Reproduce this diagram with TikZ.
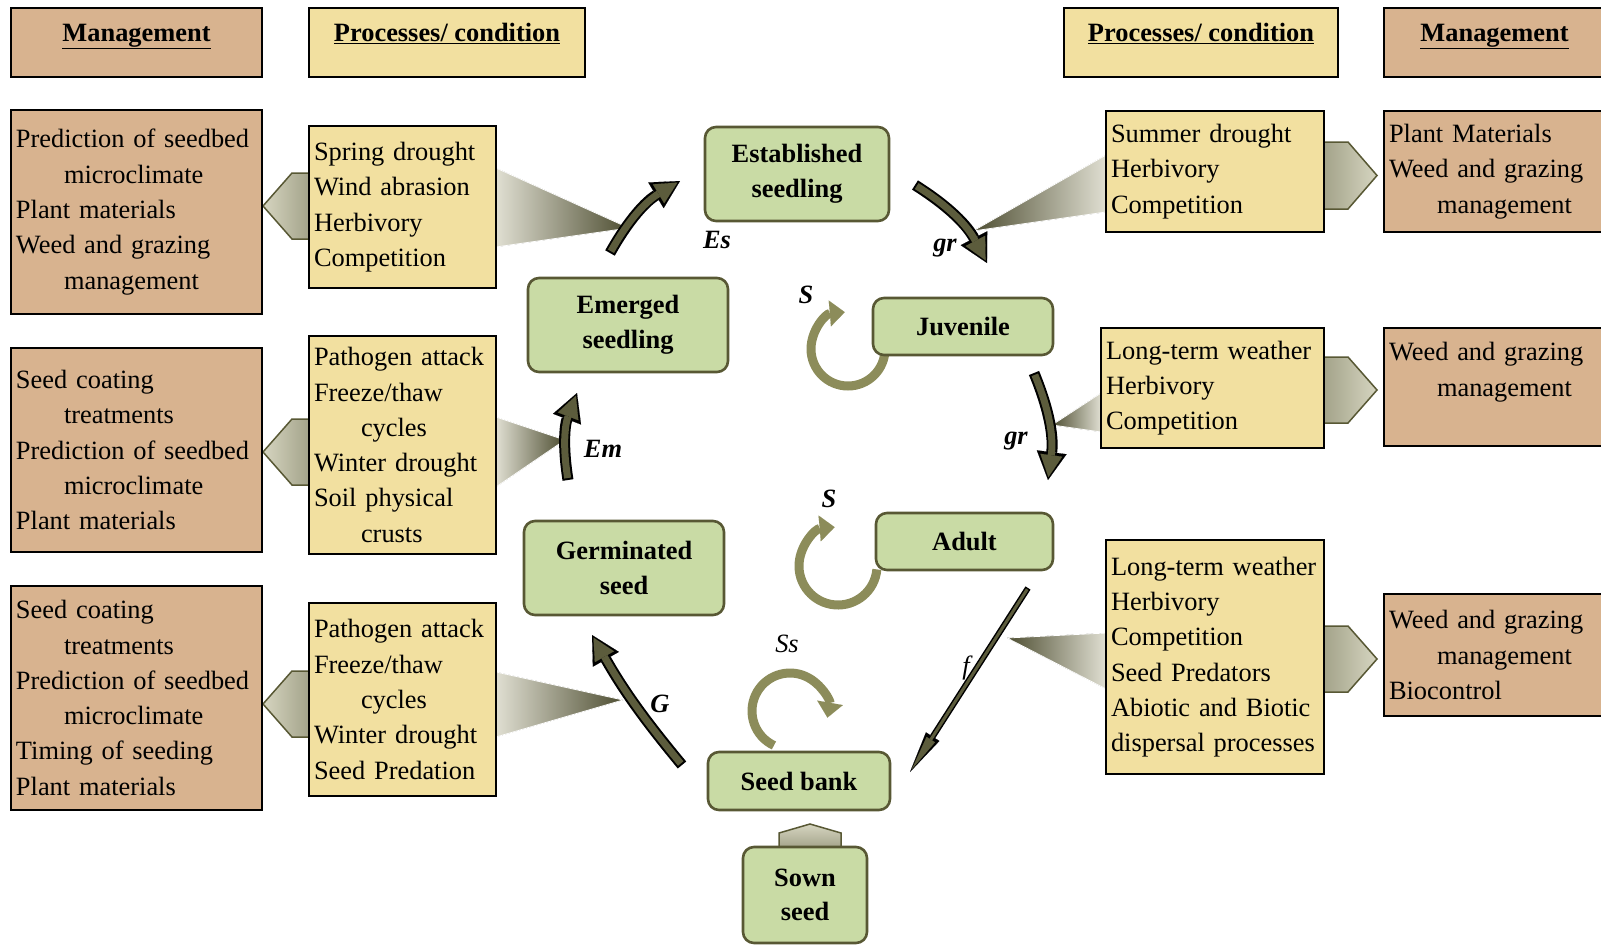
\documentclass[tikz,border=0pt]{standalone}
\usepackage{fontspec}
\setmainfont{Liberation Serif}
\usetikzlibrary{arrows.meta, shapes.geometric, backgrounds}

\definecolor{mgmtfill}{RGB}{216,179,143}
\definecolor{procfill}{RGB}{242,224,160}
\definecolor{stagefill}{RGB}{201,219,165}
\definecolor{stagedraw}{RGB}{88,88,52}
\definecolor{arrowfill}{RGB}{92,92,60}
\definecolor{loopcol}{RGB}{140,140,90}
\definecolor{funneldark}{RGB}{78,78,50}
\definecolor{funnellight}{RGB}{224,223,210}
\definecolor{wedgedark}{RGB}{163,163,138}
\definecolor{wedgelight}{RGB}{214,213,192}

\begin{document}
\begin{tikzpicture}[
x=1pt, y=-1pt,
hdr/.style={rectangle, draw, line width=2.6pt, minimum height=69pt, text depth=20pt,
font=\fontsize{26.4}{35.3}\selectfont\bfseries},
mgmt/.style={rectangle, draw, line width=2.6pt, fill=mgmtfill, align=left,
inner xsep=5pt, inner ysep=2pt, font=\fontsize{26.4}{35.3}\selectfont},
proc/.style={mgmt, fill=procfill},
stage/.style={rectangle, rounded corners=11pt, draw=stagedraw, line width=2.6pt,
fill=stagefill, align=center, inner sep=0pt, font=\fontsize{26.4}{34.7}\selectfont\bfseries},
lbl/.style={font=\fontsize{26.4}{30}\selectfont\bfseries\itshape},
lblthin/.style={font=\fontsize{26.4}{30}\selectfont\itshape},
fatback/.style={line width=11pt, black, -{Triangle[length=28pt, width=30pt, line width=0.1pt]}},
fatfront/.style={line width=7pt, arrowfill, shorten <=2pt, shorten >=3pt,
-{Triangle[length=22pt, width=22pt, line width=0.1pt]}},
thinback/.style={line width=6pt, black, -{Triangle[length=42pt, width=16pt, line width=0.1pt]}},
thinfront/.style={line width=3pt, arrowfill, shorten <=1.5pt, shorten >=3.5pt,
-{Triangle[length=35pt, width=10pt, line width=0.1pt]}},
selfloop/.style={line width=9pt, loopcol, -{Triangle[length=15pt, width=26pt, line width=0.1pt]}},
wedge/.style={draw=stagedraw, line width=1.5pt},
funnel/.style={draw=white, line width=0.8pt}
]
\useasboundingbox (0,0) rectangle (1601,945);

% headers
\node[hdr, fill=mgmtfill, minimum width=251pt] (hmL) at (136.5,42.5) {\underline{Management}};
\node[hdr, fill=procfill, minimum width=276pt] (hpL) at (447,42.5) {\underline{Processes/ condition}};
\node[hdr, fill=procfill, minimum width=274pt] (hpR) at (1201,42.5) {\underline{Processes/ condition}};
\node[hdr, fill=mgmtfill, minimum width=221pt] (hmR) at (1494.5,42.5) {\underline{Management}};

% left side
\node[mgmt, text width=241pt, minimum height=204pt] (mL1) at (136.5,212)
{Prediction of seedbed\\\hspace*{48pt}microclimate\\Plant materials\\Weed and grazing\\\hspace*{48pt}management};
\node[mgmt, text width=241pt, minimum height=204pt] (mL2) at (136.5,450)
{Seed coating\\\hspace*{48pt}treatments\\Prediction of seedbed\\\hspace*{48pt}microclimate\\Plant materials};
\node[mgmt, text width=241pt, minimum height=224pt] (mL3) at (136.5,698)
{Seed coating\\\hspace*{48pt}treatments\\Prediction of seedbed\\\hspace*{48pt}microclimate\\Timing of seeding\\Plant materials};
\node[proc, text width=177pt, minimum height=162pt] (pL1) at (402.5,207)
{Spring drought\\Wind abrasion\\Herbivory\\Competition};
\node[proc, text width=177pt, minimum height=218pt] (pL2) at (402.5,445)
{Pathogen attack\\Freeze/thaw\\\hspace*{47pt}cycles\\Winter drought\\Soil physical\\\hspace*{47pt}crusts};
\node[proc, text width=177pt, minimum height=193pt] (pL3) at (402.5,699.5)
{Pathogen attack\\Freeze/thaw\\\hspace*{47pt}cycles\\Winter drought\\Seed Predation};

% right side
\node[proc, text width=208pt, minimum height=121pt] (pR1) at (1215,171.5)
{Summer drought\\Herbivory\\Competition};
\node[proc, text width=213pt, minimum height=120pt] (pR2) at (1212.5,388)
{Long-term weather\\Herbivory\\Competition};
\node[proc, text width=208pt, minimum height=234pt] (pR3) at (1215,657)
{Long-term weather\\Herbivory\\Competition\\Seed Predators\\Abiotic and Biotic\\dispersal processes};
\node[mgmt, text width=211pt, minimum height=121pt] (mR1) at (1494.5,171.5)
{Plant Materials\\Weed and grazing\\\hspace*{48pt}management};
\node[mgmt, text width=211pt, minimum height=118pt] (mR2) at (1494.5,387)
{Weed and grazing\\\hspace*{48pt}management\\\mbox{}};
\node[mgmt, text width=211pt, minimum height=122pt] (mR3) at (1494.5,655)
{Weed and grazing\\\hspace*{48pt}management\\Biocontrol};

% life stages
\node[stage, minimum width=184pt, minimum height=94pt] (est) at (797,174) {Established\\seedling};
\node[stage, minimum width=200pt, minimum height=94pt] (emg) at (628,325) {Emerged\\seedling};
\node[stage, minimum width=180pt, minimum height=57pt] (juv) at (963,326.5) {Juvenile};
\node[stage, minimum width=200pt, minimum height=94pt] (ger) at (624,568) {Germinated\\seed};
\node[stage, minimum width=177pt, minimum height=57pt] (adu) at (964.5,541.5) {Adult};
\node[stage, minimum width=182pt, minimum height=58pt] (bank) at (799,781) {Seed bank};
\node[stage, minimum width=124pt, minimum height=96pt] (sown) at (805,895) {Sown\\seed};

% arrow ends and loop centres
\coordinate (es-a) at (610,253);  \coordinate (es-b) at (680,181);
\coordinate (gr1-a) at (915,185); \coordinate (gr1-b) at (987,263);
\coordinate (em-a) at (568,480);  \coordinate (em-b) at (577,393);
\coordinate (gr2-a) at (1034,373); \coordinate (gr2-b) at (1048,480);
\coordinate (g-a) at (682,765);   \coordinate (g-b) at (592,635);
\coordinate (f-a) at (1028,588);  \coordinate (f-b) at (910,772);
\coordinate (juv-loop) at (848,349);
\coordinate (adu-loop) at (838,566);
\coordinate (bank-loop) at (790,711);

\begin{scope}[on background layer]
% funnels
\filldraw[funnel, left color=funnellight, right color=funneldark] (496,168) -- (629,228) -- (496,247) -- cycle;
\filldraw[funnel, left color=funnellight, right color=funneldark] (496,417) -- (565,440) -- (496,487) -- cycle;
\filldraw[funnel, left color=funnellight, right color=funneldark] (496,672) -- (623,700) -- (496,737) -- cycle;
\filldraw[funnel, left color=funneldark, right color=funnellight] (1106,155) -- (973,231) -- (1106,212) -- cycle;
\filldraw[funnel, left color=funneldark, right color=funnellight] (1101,393) -- (1052,425) -- (1101,432) -- cycle;
\filldraw[funnel, left color=funneldark, right color=funnellight] (1106,633) -- (1007,638) -- (1106,689) -- cycle;
% wedges
\filldraw[wedge, left color=wedgelight, right color=wedgedark] (263,206) -- (292,173) -- (309,173) -- (309,239) -- (292,239) -- cycle;
\filldraw[wedge, left color=wedgelight, right color=wedgedark] (263,452) -- (292,419) -- (309,419) -- (309,485) -- (292,485) -- cycle;
\filldraw[wedge, left color=wedgelight, right color=wedgedark] (263,704) -- (292,671) -- (309,671) -- (309,737) -- (292,737) -- cycle;
\filldraw[wedge, left color=wedgedark, right color=wedgelight] (1324,142) -- (1348,142) -- (1377,175.5) -- (1348,209) -- (1324,209) -- cycle;
\filldraw[wedge, left color=wedgedark, right color=wedgelight] (1324,357) -- (1348,357) -- (1377,390) -- (1348,423) -- (1324,423) -- cycle;
\filldraw[wedge, left color=wedgedark, right color=wedgelight] (1324,626) -- (1348,626) -- (1377,659) -- (1348,692) -- (1324,692) -- cycle;
\filldraw[wedge, top color=wedgelight, bottom color=wedgedark] (779,848) -- (779,833) -- (810,824) -- (841,833) -- (841,848) -- cycle;
% survival loops
\draw[selfloop] ([shift={(0:37)}]juv-loop) arc[start angle=0, end angle=265, radius=37];
\draw[selfloop] ([shift={(5:39)}]adu-loop) arc[start angle=5, end angle=265, radius=39];
\draw[selfloop] ([shift={(115:38)}]bank-loop) arc[start angle=115, end angle=370, radius=38];
\end{scope}

% transitions
\draw[fatback] (es-a) to[bend left=15] (es-b);
\draw[fatfront] (es-a) to[bend left=15] (es-b);
\draw[fatback] (gr1-a) to[bend left=15] (gr1-b);
\draw[fatfront] (gr1-a) to[bend left=15] (gr1-b);
\draw[fatback] (em-a) to[bend left=15] (em-b);
\draw[fatfront] (em-a) to[bend left=15] (em-b);
\draw[fatback] (gr2-a) to[bend left=15] (gr2-b);
\draw[fatfront] (gr2-a) to[bend left=15] (gr2-b);
\draw[fatback] (g-a) to[bend left=5] (g-b);
\draw[fatfront] (g-a) to[bend left=5] (g-b);
\draw[thinback] (f-a) -- (f-b);
\draw[thinfront] (f-a) -- (f-b);

% rate labels
\node[lbl] (l-es) at (717,240) {Es};
\node[lbl] (l-gr1) at (945,248) {gr};
\node[lbl] (l-s1) at (806,295) {S};
\node[lbl] (l-em) at (603,449) {Em};
\node[lbl] (l-gr2) at (1016,441) {gr};
\node[lbl] (l-s2) at (829,499) {S};
\node[lblthin] (l-ss) at (787,644) {Ss};
\node[lblthin] (l-f) at (966,668) {f};
\node[lbl] (l-g) at (660,704) {G};
\end{tikzpicture}
\end{document}
